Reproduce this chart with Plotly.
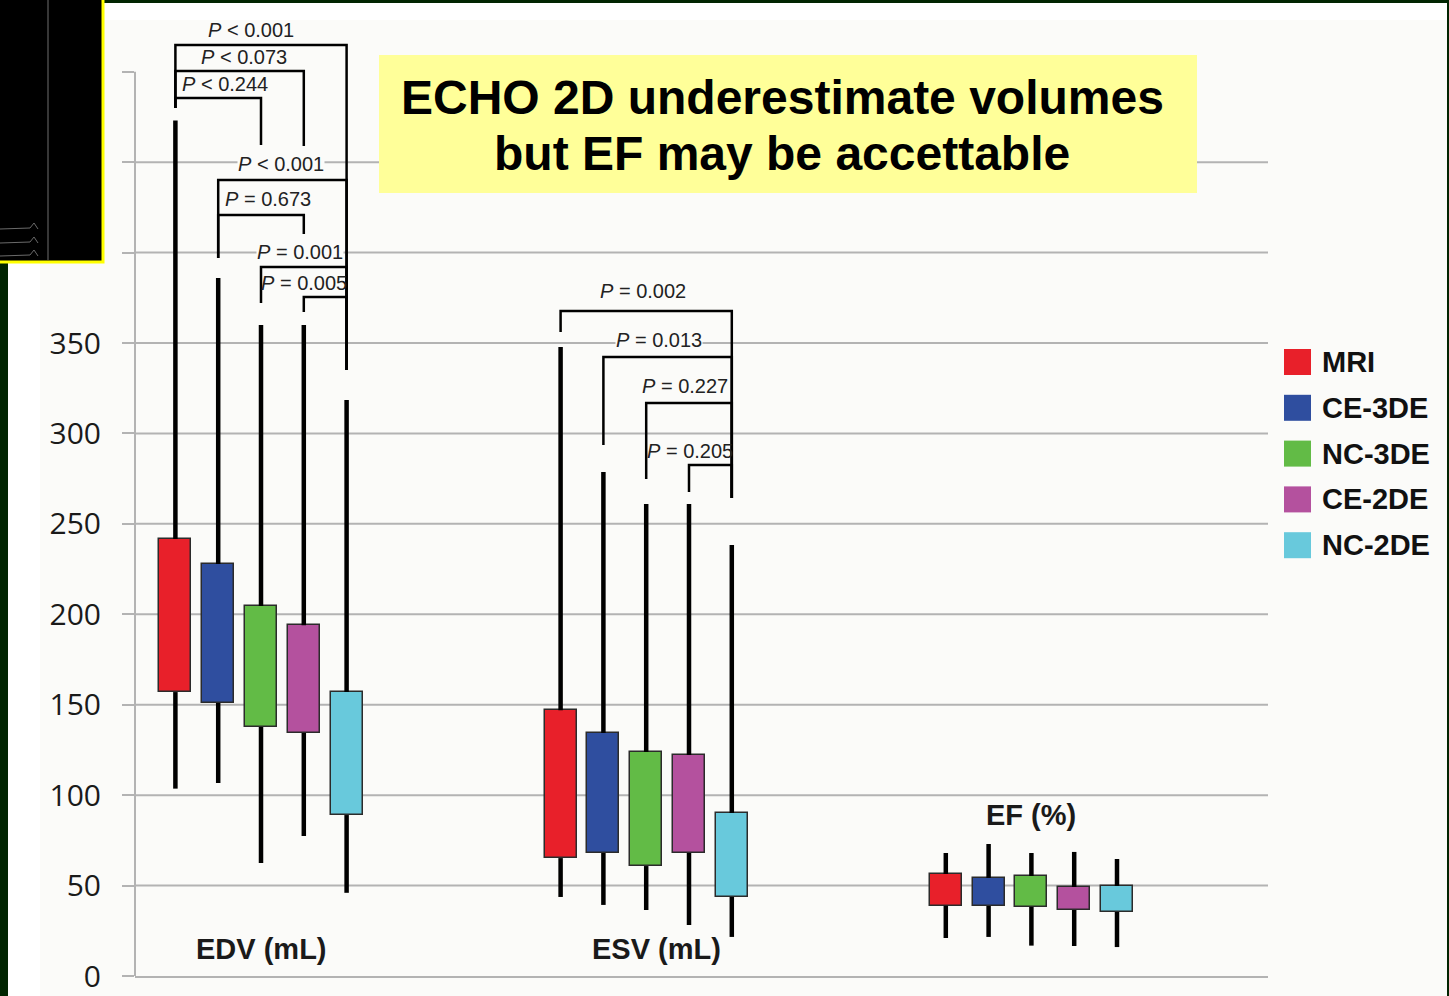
import plotly.graph_objects as go

# ---- data -------------------------------------------------------------
SERIES = ["MRI", "CE-3DE", "NC-3DE", "CE-2DE", "NC-2DE"]
COLORS = ["#e8202a", "#2f4e9f", "#62bb46", "#b4519e", "#68c9dc"]
GROUPS = ["EDV (mL)", "ESV (mL)", "EF (%)"]

# one row per group (EDV, ESV, EF), one column per modality
whisker_high = [
    [473.0, 386.0, 360.0, 360.0, 318.5],
    [347.8, 278.7, 261.0, 261.0, 238.3],
    [68.0, 73.0, 68.0, 68.6, 64.7],
]
box_high = [
    [241.6, 227.8, 204.6, 194.0, 157.0],
    [147.0, 134.4, 123.9, 122.2, 90.1],
    [56.4, 54.2, 55.3, 49.2, 49.8],
]
box_low = [
    [157.0, 151.0, 137.7, 134.4, 89.0],
    [65.2, 68.0, 60.8, 68.0, 43.7],
    [38.9, 38.7, 38.2, 36.5, 35.4],
]
whisker_low = [
    [103.6, 106.7, 62.5, 77.4, 46.0],
    [43.7, 39.3, 36.5, 28.2, 21.6],
    [21.0, 21.6, 16.8, 16.6, 16.0],
]

# pairwise comparisons: (group, series a, series b, p-value text)
comparisons = [
    (0, 0, 4, "<i>P</i> &lt; 0.001"),
    (0, 0, 3, "<i>P</i> &lt; 0.073"),
    (0, 0, 2, "<i>P</i> &lt; 0.244"),
    (0, 1, 4, "<i>P</i> &lt; 0.001"),
    (0, 1, 3, "<i>P</i> = 0.673"),
    (0, 2, 4, "<i>P</i> = 0.001"),
    (0, 3, 4, "<i>P</i> = 0.005"),
    (1, 0, 4, "<i>P</i> = 0.002"),
    (1, 1, 4, "<i>P</i> = 0.013"),
    (1, 2, 4, "<i>P</i> = 0.227"),
    (1, 3, 4, "<i>P</i> = 0.205"),
]

# bracket layout: (bar height, left leg end, right leg end, label dx, label y, opaque label)
bracket_layout = [
    (514.8, 479.9, 335.1, -0.23, 523.1, False),
    (500.4, 479.9, 458.9, -0.40, 508.1, False),
    (485.5, 479.9, 459.5, -0.84, 493.2, False),
    (440.1, 397.0, 335.1, 0.47, 449.0, True),
    (420.8, 397.0, 410.3, 0.16, 429.6, False),
    (392.0, 372.1, 335.1, 0.91, 400.3, True),
    (375.4, 367.1, 335.1, 1.00, 383.2, False),
    (367.7, 356.1, 264.3, -0.07, 378.8, False),
    (342.3, 293.6, 264.3, 0.30, 351.7, True),
    (316.8, 274.8, 264.3, 0.91, 326.2, False),
    (282.5, 267.6, 264.3, 1.02, 290.3, False),
]

# ---- geometry -----------------------------------------------------------
W, H = 1449, 996
ML, MR, MT, MB = 135, 181, 17, 20
PW, PH = W - ML - MR, H - MT - MB
GROUP_STEP = 9
X_RANGE = [-2.944, -2.944 + PW / 42.8]
Y_RANGE = [0, 530.25]
BG = "#fbfbf9"
GRID = "#b3b3b3"


def px(x, y):
    """Pixel position on the page -> paper coordinates."""
    return (x - ML) / PW, (H - MB - y) / PH


def xpos(g, k):
    return g * GROUP_STEP + (k - 2)


fig = go.Figure()

for k, name in enumerate(SERIES):
    xs = [xpos(g, k) for g in range(len(GROUPS))]
    wx, wy = [], []
    for g, x in enumerate(xs):
        wx += [x, x, None, x, x, None]
        wy += [box_high[g][k], whisker_high[g][k], None,
               box_low[g][k], whisker_low[g][k], None]
    fig.add_trace(go.Scatter(
        x=wx, y=wy, mode="lines", line=dict(color="#000000", width=4.5),
        hoverinfo="skip", showlegend=False))
    fig.add_trace(go.Bar(
        x=xs,
        y=[box_high[g][k] - box_low[g][k] for g in range(len(GROUPS))],
        base=[box_low[g][k] for g in range(len(GROUPS))],
        width=0.75, name=name, showlegend=False,
        marker=dict(color=COLORS[k], line=dict(color="#2b2b2b", width=1.5)),
    ))

# significance brackets
bx, by = [], []
annotations = []
for (g, a, b, label), (h, la, rb, dx, ly, opaque) in zip(comparisons, bracket_layout):
    xa, xb = xpos(g, a), xpos(g, b)
    bx += [xa, xa, xb, xb, None]
    by += [la, h, h, rb, None]
    annotations.append(dict(
        x=g * GROUP_STEP + dx, y=ly, xref="x", yref="y", text=label,
        showarrow=False, font=dict(family="Liberation Sans", size=20, color="#222222"),
        bgcolor=BG if opaque else "rgba(0,0,0,0)", borderpad=0,
    ))
fig.add_trace(go.Scatter(x=bx, y=by, mode="lines",
                         line=dict(color="#000000", width=2.5),
                         hoverinfo="skip", showlegend=False))

# group captions
for g, (name, dx, y) in enumerate(zip(GROUPS, [0.0, 0.25, 0.0], [14.9, 14.9, 89.0])):
    annotations.append(dict(
        x=g * GROUP_STEP + dx, y=y, xref="x", yref="y", text=f"<b>{name}</b>",
        showarrow=False, font=dict(family="Liberation Sans", size=29, color="#1a1a1a"),
    ))

shapes = []


def rect(x0, y0, x1, y1, fill, layer="below", line=None):
    p0, p1 = px(x0, y0), px(x1, y1)
    shapes.append(dict(type="rect", xref="paper", yref="paper",
                       x0=p0[0], y0=p0[1], x1=p1[0], y1=p1[1],
                       fillcolor=fill, layer=layer,
                       line=line or dict(width=0)))


# page background layers
rect(8, 3, 1447, 1000, "#ffffff")
rect(40, 20, 1447, 1000, BG)

# horizontal gridlines and value axis line
for v in range(50, 500, 50):
    shapes.append(dict(type="line", xref="paper", yref="y", x0=0, x1=1, y0=v, y1=v,
                       line=dict(color=GRID, width=2), layer="below"))
shapes.append(dict(type="line", xref="paper", yref="y", x0=0, x1=0, y0=0, y1=500,
                   line=dict(color=GRID, width=2), layer="below"))

# black inset panel at the top-left corner
rect(-4, -4, 103, 262, "#000000", layer="above", line=dict(color="#ffff00", width=3))
p0, p1 = px(48, 0), px(48, 260)
shapes.append(dict(type="line", xref="paper", yref="paper", x0=p0[0], y0=p0[1],
                   x1=p1[0], y1=p1[1], line=dict(color="#4a4a4a", width=1.5), layer="above"))
for yy in (228, 242, 255):
    pts = [px(0, yy + 1), px(30, yy), px(34, yy - 5), px(38, yy + 1)]
    path = "M " + " L ".join(f"{a},{b}" for a, b in pts)
    shapes.append(dict(type="path", xref="paper", yref="paper", path=path,
                       line=dict(color="#6a6a6a", width=1), layer="above"))

# highlighted message box
rect(379, 55, 1197, 193, "#ffff99", layer="above")
for text, yy in (("ECHO 2D underestimate volumes", 97), ("but EF may be accettable", 153)):
    ax, ay = px(782, yy)
    annotations.append(dict(x=ax, y=ay, xref="paper", yref="paper", text=f"<b>{text}</b>",
                            showarrow=False, xanchor="center", yanchor="middle",
                            font=dict(family="Liberation Sans", size=48, color="#000000")))

# legend
for k, (name, color) in enumerate(zip(SERIES, COLORS)):
    cy = 362 + k * 45.8
    rect(1284, cy - 13, 1311, cy + 13, color, layer="above")
    lx, ly = px(1320, cy)
    annotations.append(dict(x=lx, y=ly, xref="paper", yref="paper", text=f"<b>{name}</b>",
                            showarrow=False, xanchor="left", yanchor="middle",
                            font=dict(family="Liberation Sans", size=29, color="#111111")))

fig.update_layout(
    width=W, height=H, autosize=False,
    margin=dict(l=ML, r=MR, t=MT, b=MB, pad=0),
    paper_bgcolor="#012501", plot_bgcolor="rgba(0,0,0,0)",
    barmode="overlay", bargap=0,
    shapes=shapes, annotations=annotations,
    xaxis=dict(range=X_RANGE, showticklabels=False, ticks="", showgrid=False,
               zeroline=False, showline=True, linecolor=GRID, linewidth=2,
               fixedrange=True, automargin=False),
    yaxis=dict(range=Y_RANGE, tickvals=list(range(0, 501, 50)), ticks="outside",
               ticklen=12, tickwidth=2, tickcolor=GRID, showgrid=False, zeroline=False,
               showline=False, ticklabelstandoff=15, automargin=False,
               tickfont=dict(family="Open Sans", size=30, color="#1a1a1a")),
)

fig.write_html("out.html")
